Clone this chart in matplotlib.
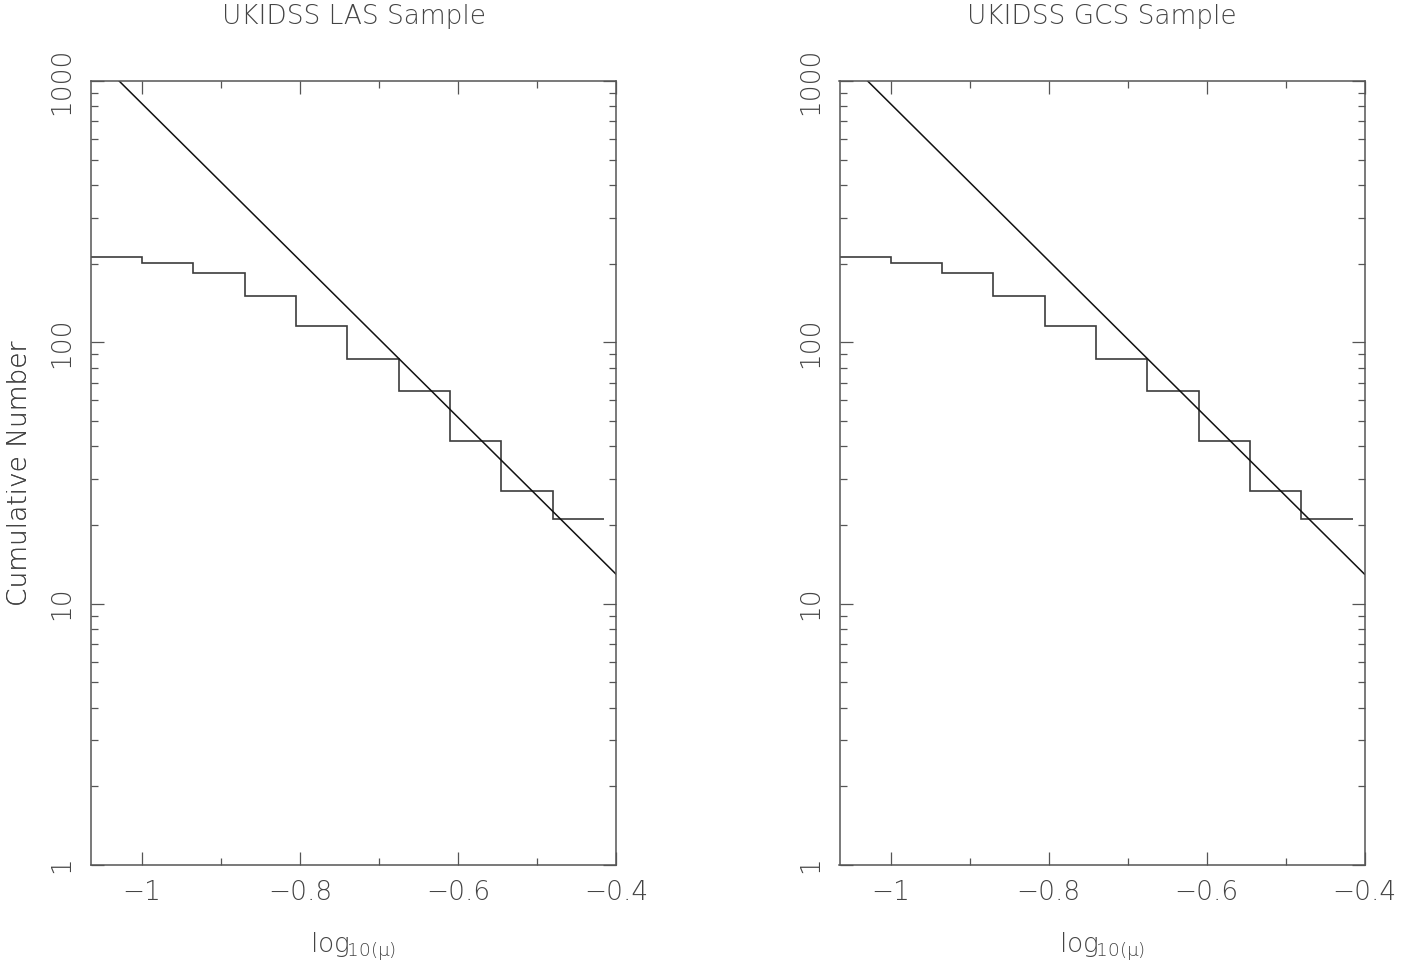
import numpy as np
import matplotlib
matplotlib.use("Agg")
import matplotlib.pyplot as plt
from matplotlib import ticker

# Cumulative counts per proper-motion bin (log10 mu)
bin_edges = [-1.065, -1.0, -0.935, -0.87, -0.805, -0.74, -0.675, -0.61, -0.545, -0.48, -0.415]
cum_counts = [213, 202, 185, 151, 115, 86, 65, 42, 27, 21]

# Power-law reference line: log10 N = intercept + slope * log10(mu)
line_slope = -3.0
line_intercept = -0.087

panel_titles = ["UKIDSS LAS Sample", "UKIDSS GCS Sample"]
x_ticks = [-1.0, -0.8, -0.6, -0.4]
y_ticks = [1, 10, 100, 1000]

plt.rcParams['font.family'] = ['DejaVu Sans']
plt.rcParams['font.weight'] = 'ultralight'
plt.rcParams['mathtext.default'] = 'regular'
plt.rcParams['axes.unicode_minus'] = True

W, H = 1423, 971
fig = plt.figure(figsize=(W / 100, H / 100), dpi=100)

text_col = "#444444"
line_col = "#3c3c3c"
FS = 19

axes_px = [(91, 616), (839.5, 1364.5)]
top_px, bot_px = 81, 865

for (x0, x1), title in zip(axes_px, panel_titles):
    ax = fig.add_axes([x0 / W, (H - bot_px) / H, (x1 - x0) / W, (bot_px - top_px) / H])
    ax.set_yscale('log')
    ax.set_xlim(-1.0646, -0.4)
    ax.set_ylim(1, 1000)

    ax.stairs(cum_counts, bin_edges, baseline=None, color=line_col, linewidth=1.2)

    xs = np.array([-1.0646, -0.4])
    ax.plot(xs, 10 ** (line_intercept + line_slope * xs), color="#111111", linewidth=1.1)

    for sp in ax.spines.values():
        sp.set_color("#555555")
        sp.set_linewidth(1.1)

    ax.xaxis.set_major_locator(ticker.FixedLocator(x_ticks))
    ax.xaxis.set_minor_locator(ticker.FixedLocator([-0.9, -0.7, -0.5]))
    ax.xaxis.set_major_formatter(ticker.FuncFormatter(lambda v, p: f"{v:g}".replace('-', '\u2212')))
    ax.yaxis.set_major_locator(ticker.FixedLocator(y_ticks))
    ax.yaxis.set_minor_locator(ticker.LogLocator(base=10, subs=np.arange(2, 10)))
    ax.yaxis.set_minor_formatter(ticker.NullFormatter())
    ax.yaxis.set_major_formatter(ticker.FuncFormatter(lambda v, p: f"{v:g}"))

    ax.tick_params(which='both', direction='in', top=True, right=True, color="#555555",
                   labelcolor=text_col, labelsize=FS)
    ax.tick_params(which='major', length=9.5, width=0.9)
    ax.tick_params(which='minor', length=4.8, width=0.9)
    ax.tick_params(axis='x', which='major', pad=11)
    ax.tick_params(axis='y', which='major', pad=12)
    for lab in ax.get_yticklabels():
        lab.set_rotation(90)
        lab.set_va('center')

    ax.text(0.5, 1 + (top_px - 17) / (bot_px - top_px), title, transform=ax.transAxes,
            ha='center', va='center', fontsize=FS, color=text_col)
    ax.text(0.5, -(947 - bot_px) / (bot_px - top_px),
            r'log$_{\mathregular{\!10(}\mu\mathregular{)}}$', transform=ax.transAxes,
            ha='center', va='center', fontsize=FS, color=text_col)
    ax.text(-(x0 - 20) / (x1 - x0), 0.5, "Cumulative Number", transform=ax.transAxes,
            ha='center', va='center', rotation=90, fontsize=FS, color=text_col)

fig.savefig("out.png", dpi=100)
